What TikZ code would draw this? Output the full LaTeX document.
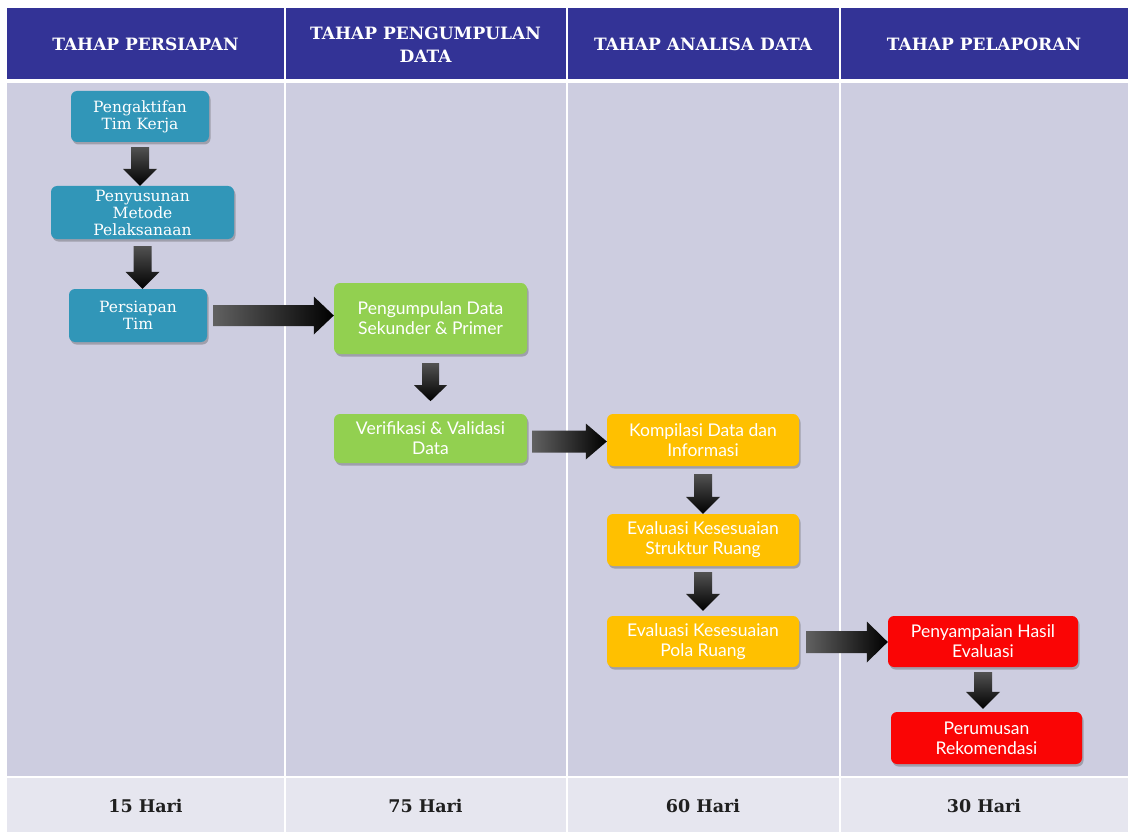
\documentclass[tikz,border=0pt]{standalone}
\usepackage{fontspec}
\setmainfont{DejaVu Serif}
\newfontfamily\gillfont{Lato}
\usetikzlibrary{shadows,calc}
\definecolor{hdr}{RGB}{51,51,150}
\definecolor{bodyc}{RGB}{205,205,224}
\definecolor{footc}{RGB}{230,230,239}
\definecolor{tealc}{RGB}{49,150,184}
\definecolor{greenc}{RGB}{146,208,80}
\definecolor{orangec}{RGB}{255,192,0}
\definecolor{redc}{RGB}{250,5,5}
\newcommand\RArrow[5]{%
  \path[left color=black!62, right color=black] let \p1=#1, \p2=#2 in
    (\x1,\y1+#3) -- (\x2-#5,\y1+#3) -- (\x2-#5,\y1+#4) -- (\x2,\y1) --
    (\x2-#5,\y1-#4) -- (\x2-#5,\y1-#3) -- (\x1,\y1-#3) -- cycle;}
\newcommand\DArrow[5]{%
  \path[top color=black!68, bottom color=black] let \p1=#1, \p2=#2 in
    (\x1-#3,\y1) -- (\x1-#3,\y2+#5) -- (\x1-#4,\y2+#5) -- (\x1,\y2) --
    (\x1+#4,\y2+#5) -- (\x1+#3,\y2+#5) -- (\x1+#3,\y1) -- cycle;}
\tikzset{
  box/.style={rounded corners=6pt, text=white, align=center, inner sep=1pt,
    drop shadow={shadow xshift=1.5pt, shadow yshift=-2.5pt, opacity=0.35, fill=black!70}},
  bluebox/.style={box, fill=tealc, font=\fontsize{15.5}{17}\selectfont},
  greenbox/.style={box, fill=greenc, font=\gillfont\fontsize{17.5}{20}\selectfont},
  orangebox/.style={box, fill=orangec, font=\gillfont\fontsize{17.5}{20}\selectfont},
  redbox/.style={box, fill=redc, font=\gillfont\fontsize{17.5}{20}\selectfont},
  hdrtext/.style={text=white, align=center, font=\bfseries\fontsize{17}{23}\selectfont},
  foottext/.style={text=black!88, font=\bfseries\fontsize{17.5}{20}\selectfont},
  sepline/.style={white, line width=2pt}
}
\begin{document}
\begin{tikzpicture}[x=1pt, y=-1pt]
\useasboundingbox (0,0) rectangle (1128,832);
\fill[white] (0,0) rectangle (1128,832);
% bands
\fill[hdr] (7,8) rectangle (1128,79);
\fill[bodyc] (7,83) rectangle (1128,776);
\fill[footc] (7,778) rectangle (1128,832);
\foreach \xx in {284.5,566.5,839.5} \draw[sepline] (\xx,8) -- (\xx,832);
% headers
\node[hdrtext] (h1) at (145.5,44) {TAHAP PERSIAPAN};
\node[hdrtext] (h2) at (425.5,45) {TAHAP PENGUMPULAN\\DATA};
\node[hdrtext] (h3) at (703,44) {TAHAP ANALISA DATA};
\node[hdrtext] (h4) at (984,44) {TAHAP PELAPORAN};
% footers
\node[foottext] (f1) at (145.5,806) {15 Hari};
\node[foottext] (f2) at (425.5,806) {75 Hari};
\node[foottext] (f3) at (703,806) {60 Hari};
\node[foottext] (f4) at (984,806) {30 Hari};
% boxes
\node[bluebox, minimum width=138pt, minimum height=51pt] (b1) at (140,116.5) {Pengaktifan\\Tim Kerja};
\node[bluebox, minimum width=183pt, minimum height=53pt] (b2) at (142.5,212.5) {Penyusunan\\Metode\\Pelaksanaan};
\node[bluebox, minimum width=138pt, minimum height=53pt] (b3) at (138,315.5) {Persiapan\\Tim};
\node[greenbox, minimum width=193pt, minimum height=71pt] (g1) at (430.5,318.5) {Pengumpulan Data\\Sekunder \& Primer};
\node[greenbox, minimum width=193pt, minimum height=49pt] (g2) at (430.5,438.5) {Verifikasi \& Validasi\\Data};
\node[orangebox, minimum width=192pt, minimum height=52pt] (o1) at (703,440) {Kompilasi Data dan\\Informasi};
\node[orangebox, minimum width=192pt, minimum height=52pt] (o2) at (703,540) {Evaluasi Kesesuaian\\Struktur Ruang};
\node[orangebox, minimum width=192pt, minimum height=51pt] (o3) at (703,641.5) {Evaluasi Kesesuaian\\Pola Ruang};
\node[redbox, minimum width=190pt, minimum height=51pt] (r1) at (983,641.5) {Penyampaian Hasil\\Evaluasi};
\node[redbox, minimum width=191pt, minimum height=52pt] (r2) at (986.5,738) {Perumusan\\Rekomendasi};
% down arrows
\DArrow{($(b1.south)+(0,5)$)}{(b2.north)}{9pt}{17pt}{17pt}
\DArrow{($(b2.south)+(0,7)$)}{(b3.north)}{9pt}{17pt}{17pt}
\DArrow{($(g1.south)+(0,9)$)}{($(g1.south)+(0,47)$)}{8.5pt}{16.5pt}{16pt}
\DArrow{($(o1.south)+(0,8)$)}{(o2.north)}{9pt}{17pt}{17pt}
\DArrow{($(o2.south)+(0,6)$)}{($(o3.north)+(0,-5)$)}{9pt}{17pt}{17pt}
\DArrow{($(r1.south)+(0,5)$)}{($(r2.north)+(0,-3)$)}{9pt}{17pt}{17pt}
% right arrows
\RArrow{($(b3.east)+(6,0)$)}{(g1.west)}{10.5pt}{19pt}{20pt}
\RArrow{($(g2.east)+(5,3)$)}{($(o1.west)+(0,1)$)}{11pt}{18pt}{21pt}
\RArrow{($(o3.east)+(7,0.5)$)}{($(r1.west)+(0,0.5)$)}{11pt}{20.5pt}{21pt}
\end{tikzpicture}
\end{document}
